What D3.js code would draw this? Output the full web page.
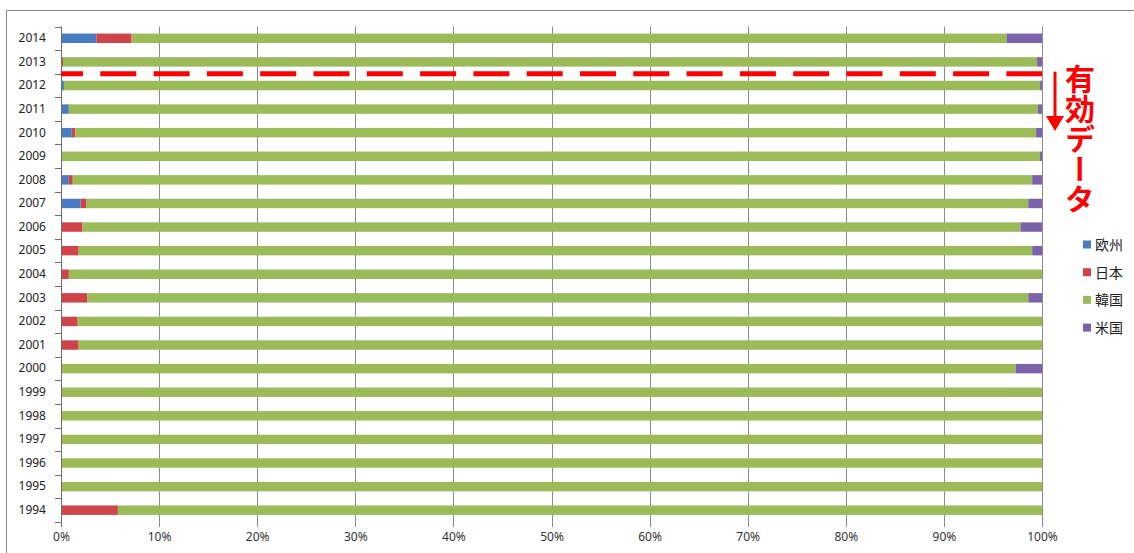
<!DOCTYPE html>
<html>
<head>
<meta charset="utf-8">
<script src="https://cdn.jsdelivr.net/npm/d3@7"></script>
<style>
  html, body { margin: 0; padding: 0; background: #fff; }
  svg { display: block; }
</style>
</head>
<body>
<svg id="chart" width="1134" height="553"></svg>
<script>
// Share of each region per year (percent), top row first
const years = [2014, 2013, 2012, 2011, 2010, 2009, 2008, 2007, 2006, 2005, 2004,
               2003, 2002, 2001, 2000, 1999, 1998, 1997, 1996, 1995, 1994];
const europe = [3.6, 0, 0.3, 0.8, 1.1, 0, 0.8, 2.0, 0, 0, 0,
                0, 0, 0, 0, 0, 0, 0, 0, 0, 0];
const japan  = [3.6, 0.2, 0, 0, 0.35, 0, 0.4, 0.6, 2.2, 1.8, 0.8,
                2.7, 1.7, 1.8, 0, 0, 0, 0, 0, 0, 5.8];
const korea  = [89.2, 99.3, 99.5, 98.8, 97.95, 99.8, 97.8, 96.0, 95.6, 97.2, 99.2,
                95.9, 98.3, 98.2, 97.3, 100, 100, 100, 100, 100, 94.2];
const usa    = [3.6, 0.5, 0.2, 0.4, 0.6, 0.2, 1.0, 1.4, 2.2, 1.0, 0,
                1.4, 0, 0, 2.7, 0, 0, 0, 0, 0, 0];
const seriesNames = ["欧州", "日本", "韓国", "米国"];
const seriesColors = ["#4a7cc4", "#cf4449", "#9bbb59", "#7b62ab"];
const xTicks = [0, 0.1, 0.2, 0.3, 0.4, 0.5, 0.6, 0.7, 0.8, 0.9, 1.0];
const noteText = "有効データ";

const svg = d3.select("#chart");
const font = "'Noto Sans', 'Noto Sans CJK JP', sans-serif";

const rows = years.map((y, i) => ({
  year: y, "欧州": europe[i], "日本": japan[i], "韓国": korea[i], "米国": usa[i]
}));

const x = d3.scaleLinear().domain([0, 1]).range([61, 1042]);
const y = d3.scaleBand().domain(years).range([26.5, 522])
  .paddingInner(0.6).paddingOuter(0.3);

const stacked = d3.stack().keys(seriesNames).offset(d3.stackOffsetExpand)(rows);
const color = d3.scaleOrdinal().domain(seriesNames).range(seriesColors);

// Outer chart frame
svg.append("path")
  .attr("d", "M6.5,553 L6.5,10.5 L1134,10.5")
  .attr("fill", "none").attr("stroke", "#8a8a8a").attr("stroke-width", 1);

// Vertical gridlines
svg.append("g").selectAll("line").data(xTicks).join("line")
  .attr("x1", d => Math.round(x(d)) + 0.5).attr("x2", d => Math.round(x(d)) + 0.5)
  .attr("y1", 26.5).attr("y2", 527)
  .attr("stroke", d => d === 0 ? "#6e6e6e" : "#8c8c8c").attr("stroke-width", 1);

// Bottom axis labels
const xAxis = d3.axisBottom(x).tickValues(xTicks).tickFormat(d3.format(".0%")).tickSize(0).tickPadding(0);
const gx = svg.append("g").attr("transform", "translate(0,532)").call(xAxis);
gx.select(".domain").remove();
gx.selectAll("text").attr("font-family", font).attr("font-size", 12).attr("fill", "#333");

// Left axis: year labels and band-boundary ticks
const yAxis = d3.axisLeft(y).tickSize(0).tickPadding(15);
const gy = svg.append("g").attr("transform", "translate(61,0)").call(yAxis);
gy.select(".domain").remove();
gy.selectAll("text").attr("font-family", font).attr("font-size", 12).attr("fill", "#222");

const step = y.step();
const bounds = d3.range(years.length + 1).map(i => 26.5 + i * step);
svg.append("g").selectAll("line").data(bounds).join("line")
  .attr("x1", 55).attr("x2", 61.5)
  .attr("y1", d => Math.round(d) + 0.5).attr("y2", d => Math.round(d) + 0.5)
  .attr("stroke", "#6e6e6e");

// Stacked bars
svg.append("g").selectAll("g").data(stacked).join("g")
  .attr("fill", s => color(s.key))
  .selectAll("rect").data(s => s).join("rect")
  .attr("x", d => x(d[0]))
  .attr("width", d => Math.max(0, x(d[1]) - x(d[0])))
  .attr("y", d => y(d.data.year))
  .attr("height", y.bandwidth());

// Axis line at 0%
svg.append("line")
  .attr("x1", 61.5).attr("x2", 61.5).attr("y1", 26.5).attr("y2", 527)
  .attr("stroke", "#6e6e6e");

// Legend
const legend = svg.append("g").selectAll("g").data(seriesNames).join("g")
  .attr("transform", (d, i) => `translate(1083,${245 + i * 27.7})`);
legend.append("rect").attr("x", 0).attr("y", -4.5).attr("width", 8).attr("height", 8)
  .attr("fill", d => color(d));
legend.append("text").attr("x", 12).attr("y", 0).attr("dy", "0.36em")
  .attr("font-family", "'Noto Sans CJK JP', sans-serif").attr("font-size", 14)
  .attr("fill", "#222").text(d => d);

// Cut-off marker between 2013 and 2012; dash pattern sized to end on a full dash at 100%
const cutY = (y(2013) + y.bandwidth() + y(2012)) / 2;
svg.append("line")
  .attr("x1", x(0)).attr("x2", x(1))
  .attr("y1", cutY).attr("y2", cutY)
  .attr("stroke", "#ff0000").attr("stroke-width", 5)
  .attr("stroke-dasharray", "36,17.3").attr("stroke-dashoffset", 14);

// Downward arrow
svg.append("line")
  .attr("x1", 1055).attr("x2", 1055).attr("y1", cutY - 2).attr("y2", 118)
  .attr("stroke", "#ff0000").attr("stroke-width", 3);
svg.append("path")
  .attr("d", "M1046,116 L1064,116 L1055,131 Z")
  .attr("fill", "#ff0000");

// Vertical caption
svg.append("text")
  .attr("x", 1080).attr("y", 64)
  .style("writing-mode", "vertical-rl")
  .style("text-orientation", "upright")
  .attr("font-family", "'Noto Sans CJK JP', sans-serif")
  .attr("font-weight", 700).attr("font-size", 30)
  .attr("fill", "#ff0000")
  .text(noteText);
</script>
</body>
</html>
